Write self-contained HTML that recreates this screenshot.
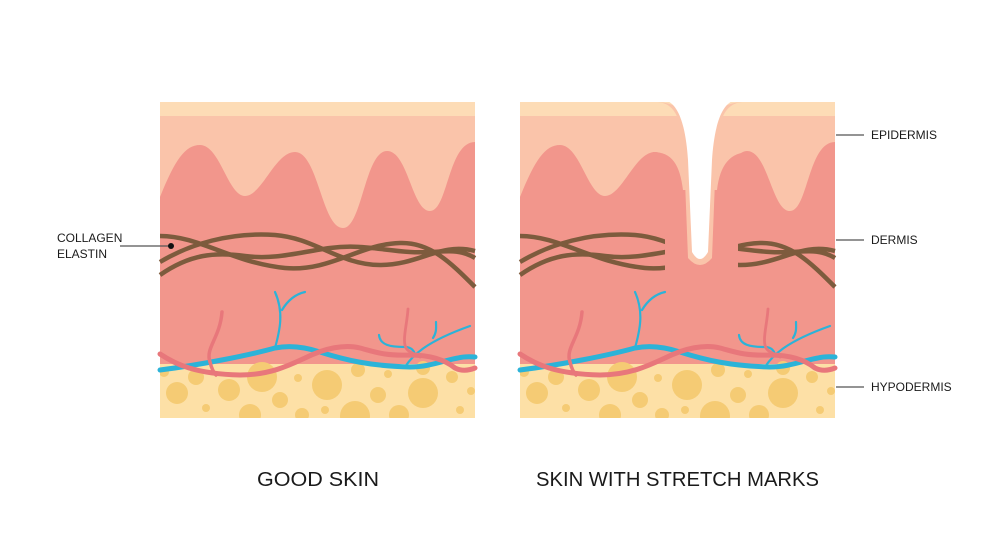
<!DOCTYPE html>
<html><head><meta charset="utf-8"><style>
html,body{margin:0;padding:0;background:#fff;}
svg{display:block;}
text{font-family:"Liberation Sans",sans-serif;fill:#1a1a1a;}
</style></head><body>
<svg width="999" height="547" viewBox="0 0 999 547" xmlns="http://www.w3.org/2000/svg">
<defs>
<clipPath id="pc"><rect x="160" y="102" width="315" height="316"/></clipPath>
<clipPath id="gapclip"><rect x="0" y="0" width="305" height="547"/><rect x="378" y="0" width="200" height="547"/></clipPath>
<g id="base">
 <rect x="160" y="102" width="315" height="316" fill="#fddcb6"/>
 <rect x="160" y="116" width="315" height="250" fill="#fac4aa"/>
 <path d="M160,197 C175,160 185,145 200,145 C220,145 228,196 245,196 C262,196 275,152 295,152 C318,152 322,228 343,228 C362,228 365,151 387,151 C408,151 412,211 430,211 C448,211 448,142 475,142 L475,366 L160,366 Z" fill="#f2968c"/>
</g>
<g id="col" fill="none" stroke="#7d5b3d" stroke-width="4.5">
 <path d="M160,236 C200,236 230,262 285,268 C330,272 360,244 400,243 C430,242 450,262 475,287"/>
 <path d="M160,262 C190,244 230,232 275,235 C315,238 340,265 380,265 C420,265 440,242 475,251"/>
 <path d="M160,275 C190,254 215,252 245,256 C275,260 300,252 330,248 C360,244 380,250 410,252 C440,254 455,246 475,258"/>
</g>
<g id="bot">
 <g clip-path="url(#pc)">
 <rect x="160" y="364" width="315" height="54" fill="#fde0a6"/>
 <g fill="#f5cb74">
  <circle cx="164" cy="372" r="5"/><circle cx="196" cy="377" r="8"/><circle cx="177" cy="393" r="11"/>
  <circle cx="229" cy="390" r="11"/><circle cx="262" cy="377" r="15"/><circle cx="280" cy="400" r="8"/>
  <circle cx="250" cy="415" r="11"/><circle cx="298" cy="378" r="4"/><circle cx="302" cy="415" r="7"/>
  <circle cx="327" cy="385" r="15"/><circle cx="325" cy="410" r="4"/><circle cx="355" cy="416" r="15"/>
  <circle cx="358" cy="370" r="7"/><circle cx="378" cy="395" r="8"/><circle cx="388" cy="374" r="4"/>
  <circle cx="423" cy="393" r="15"/><circle cx="399" cy="415" r="10"/><circle cx="452" cy="377" r="6"/>
  <circle cx="471" cy="391" r="4"/><circle cx="460" cy="410" r="4"/><circle cx="206" cy="408" r="4"/>
  <circle cx="423" cy="368" r="7"/>
 </g>
 </g>
 <g fill="none" stroke-linecap="round">
  <path d="M160,370 C200,365 250,355 275,348 C290,345 305,347 320,352 C345,360 370,366 410,367 C430,367 445,360 458,358 C466,356 472,357 475,357" stroke="#2cb3d8" stroke-width="5"/>
  <path d="M275,348 C280,330 284,312 275,292 M282,310 C288,300 296,294 305,292" stroke="#2cb3d8" stroke-width="2.2"/>
  <path d="M405,367 C412,356 425,342 470,326 M433,338 C437,332 436,327 436,322 M379,335 C380,345 390,347 405,347 C412,347 415,352 415,356" stroke="#2cb3d8" stroke-width="2.2"/>
  <path d="M160,354 C175,364 195,374 240,375 C270,375 290,365 305,358 C325,348 345,344 360,348 C375,352 385,356 410,355 C430,355 445,360 455,368 C463,372 470,370 475,368" stroke="#e8777b" stroke-width="5"/>
  <path d="M222,312 C220,338 205,348 210,362 C212,370 214,373 216,375" stroke="#e8777b" stroke-width="3.5"/>
  <path d="M408,309 C407,325 402,340 406,348 C409,353 416,354 420,357" stroke="#e8777b" stroke-width="2.8"/>
 </g>
</g>
</defs>

<use href="#base"/>
<use href="#col"/>
<use href="#bot"/>

<g transform="translate(360,0)">
 <use href="#base"/>
 <path d="M293,152 C312,152 320,165 323,190 L357,190 C360,165 370,152 390,152 L390,245 L293,245 Z" fill="#f2968c"/>
 <use href="#col" clip-path="url(#gapclip)"/>
 <path d="M298,102 C318,104 322,125 324,155 L328,258 Q340,272 352,258 L356,155 C358,125 362,104 382,102 Z" fill="#fac4aa"/>
 <path d="M298,102 C318,104 324,110 326,116 L354,116 C356,110 362,104 382,102 Z" fill="#fddcb6"/>
 <path d="M305,100 C320,104 326,130 328,160 L332,252 Q340,266 348,252 L352,160 C354,130 360,104 375,100 Z" fill="#fff"/>
 <use href="#bot"/>
</g>

<g stroke="#555" stroke-width="1.2">
 <line x1="120" y1="246" x2="170" y2="246"/>
 <line x1="836" y1="135" x2="864" y2="135"/>
 <line x1="836" y1="240" x2="864" y2="240"/>
 <line x1="836" y1="387" x2="864" y2="387"/>
</g>
<circle cx="171" cy="246" r="3" fill="#111"/>
<text x="57" y="242" font-size="12">COLLAGEN</text>
<text x="57" y="258" font-size="12">ELASTIN</text>
<text x="871" y="139" font-size="12">EPIDERMIS</text>
<text x="871" y="244" font-size="12">DERMIS</text>
<text x="871" y="391" font-size="12">HYPODERMIS</text>
<text x="257" y="486" font-size="20" textLength="122" lengthAdjust="spacingAndGlyphs">GOOD SKIN</text>
<text x="536" y="486" font-size="20" textLength="283" lengthAdjust="spacingAndGlyphs">SKIN WITH STRETCH MARKS</text>
</svg>
</body></html>
